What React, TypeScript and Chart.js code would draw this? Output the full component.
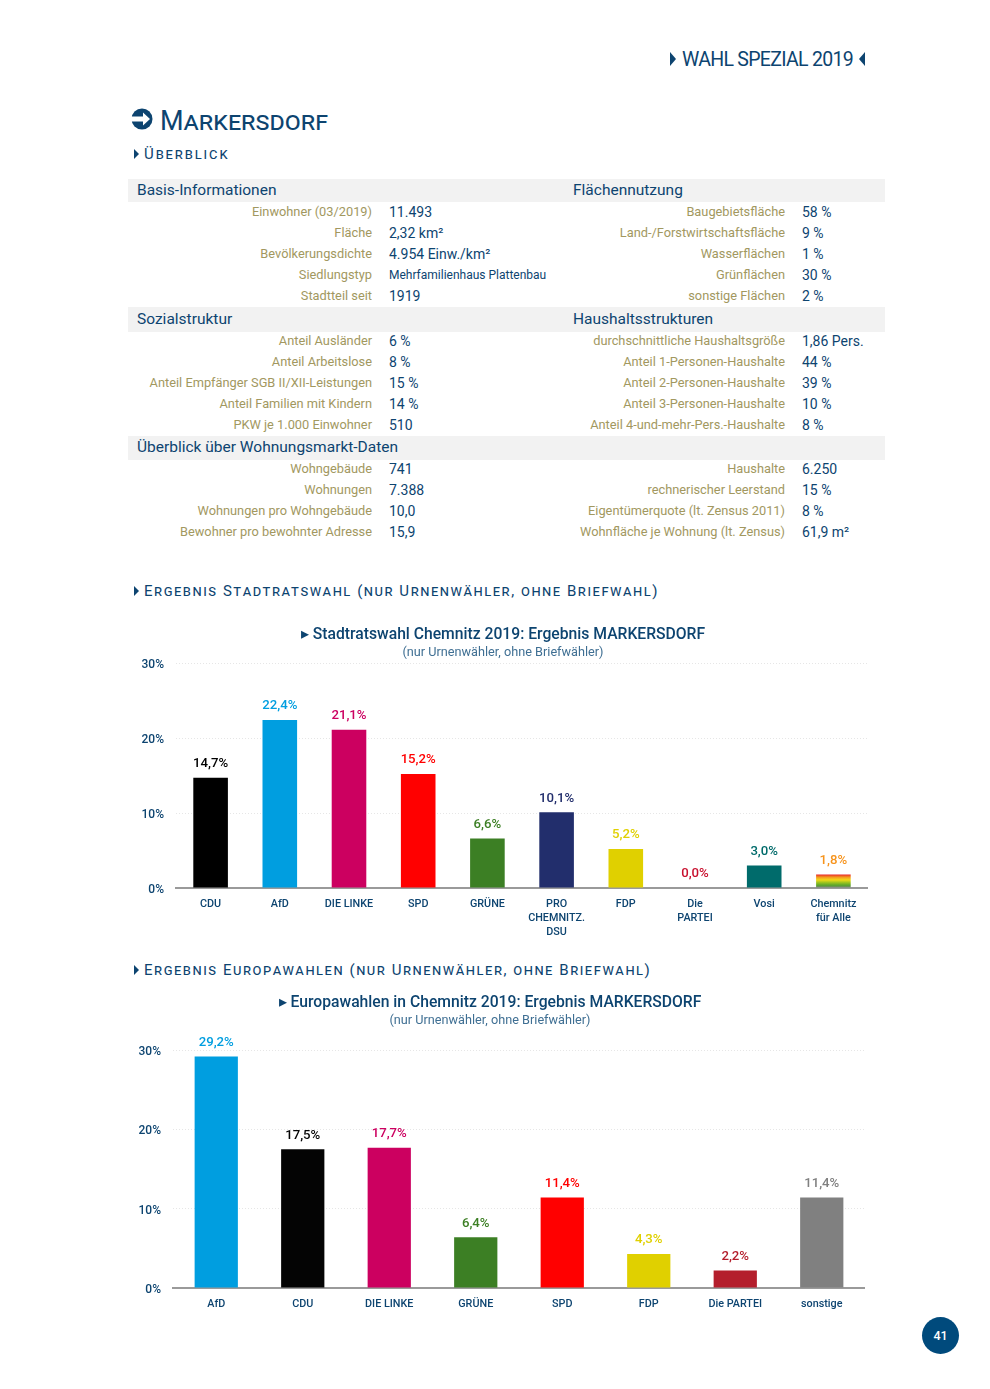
import React, { useEffect, useRef } from "react";
import { Chart, registerables } from "chart.js";

Chart.register(...registerables);

const FONT = "Roboto, 'Noto Sans', sans-serif";
const NAVY = "#0d4470";
const TAN = "#a2985f";

// ---- Table ----
const basisLabels = ["Einwohner (03/2019)", "Fläche", "Bevölkerungsdichte", "Siedlungstyp", "Stadtteil seit"];
const basisValues = ["11.493", "2,32 km²", "4.954 Einw./km²", "Mehrfamilienhaus Plattenbau", "1919"];
const flaecheLabels = ["Baugebietsfläche", "Land-/Forstwirtschaftsfläche", "Wasserflächen", "Grünflächen", "sonstige Flächen"];
const flaecheValues = ["58 %", "9 %", "1 %", "30 %", "2 %"];
const sozialLabels = ["Anteil Ausländer", "Anteil Arbeitslose", "Anteil Empfänger SGB II/XII-Leistungen", "Anteil Familien mit Kindern", "PKW je 1.000 Einwohner"];
const sozialValues = ["6 %", "8 %", "15 %", "14 %", "510"];
const haushaltLabels = ["durchschnittliche Haushaltsgröße", "Anteil 1-Personen-Haushalte", "Anteil 2-Personen-Haushalte", "Anteil 3-Personen-Haushalte", "Anteil 4-und-mehr-Pers.-Haushalte"];
const haushaltValues = ["1,86 Pers.", "44 %", "39 %", "10 %", "8 %"];
const wohnLabels = ["Wohngebäude", "Wohnungen", "Wohnungen pro Wohngebäude", "Bewohner pro bewohnter Adresse"];
const wohnValues = ["741", "7.388", "10,0", "15,9"];
const marktLabels = ["Haushalte", "rechnerischer Leerstand", "Eigentümerquote (lt. Zensus 2011)", "Wohnfläche je Wohnung (lt. Zensus)"];
const marktValues = ["6.250", "15 %", "8 %", "61,9 m²"];

// ---- Chart 1 ----
const stadtTitle = "▸ Stadtratswahl Chemnitz 2019: Ergebnis MARKERSDORF";
const stadtSubtitle = "(nur Urnenwähler, ohne Briefwähler)";
const stadtParties = ["CDU", "AfD", "DIE LINKE", "SPD", "GRÜNE", ["PRO", "CHEMNITZ.", "DSU"], "FDP", ["Die", "PARTEI"], "Vosi", ["Chemnitz", "für Alle"]];
const stadtValues = [14.7, 22.4, 21.1, 15.2, 6.6, 10.1, 5.2, 0.0, 3.0, 1.8];
const stadtColors = ["#000000", "#009ee0", "#cc0060", "#ff0000", "#3c7f24", "#222e6c", "#e0d000", "#c8102e", "#006b6b", "RAINBOW"];
const stadtLabelColors = ["#000000", "#009ee0", "#cc0060", "#ff0000", "#3c7f24", "#222e6c", "#e0d000", "#c8102e", "#006b6b", "#f7941d"];
const rainbowStops = ["#e8262a", "#f39a1f", "#f2d916", "#9cc31f", "#5aa52b", "#808080"];

// ---- Chart 2 ----
const euroTitle = "▸ Europawahlen in Chemnitz 2019: Ergebnis MARKERSDORF";
const euroSubtitle = "(nur Urnenwähler, ohne Briefwähler)";
const euroParties = ["AfD", "CDU", "DIE LINKE", "GRÜNE", "SPD", "FDP", "Die PARTEI", "sonstige"];
const euroValues = [29.2, 17.5, 17.7, 6.4, 11.4, 4.3, 2.2, 11.4];
const euroColors = ["#009ee0", "#040404", "#cc0060", "#3c7f24", "#ff0000", "#e0d000", "#b41e2c", "#808080"];
const euroLabelColors = ["#009ee0", "#040404", "#cc0060", "#3c7f24", "#ff0000", "#e0d000", "#b41e2c", "#808080"];

const yTicks = [0, 10, 20, 30];

type ChartSpec = {
  title: string; subtitle: string; labels: any[]; values: number[];
  colors: string[]; labelColors: string[];
  axisW: number; axisH: number; titleTop: number; subTop: number; subBottom: number; barPct: number;
};

function BarChart({ spec, style }: { spec: ChartSpec; style: React.CSSProperties }) {
  const ref = useRef<HTMLCanvasElement>(null);
  useEffect(() => {
    const valueLabels = {
      id: "valueLabels",
      afterDatasetsDraw(chart: any) {
        const { ctx } = chart;
        const meta = chart.getDatasetMeta(0);
        ctx.save();
        ctx.font = `500 13.2px ${FONT}`;
        ctx.textAlign = "center";
        ctx.textBaseline = "middle";
        meta.data.forEach((bar: any, i: number) => {
          ctx.fillStyle = spec.labelColors[i];
          ctx.fillText(spec.values[i].toFixed(1).replace(".", ",") + "%", bar.x, bar.y - 14);
        });
        ctx.restore();
      },
    };
    const chart = new Chart(ref.current!, {
      type: "bar",
      plugins: [valueLabels],
      data: {
        labels: spec.labels,
        datasets: [{
          data: spec.values,
          barPercentage: spec.barPct,
          categoryPercentage: 1,
          backgroundColor: (c: any) => {
            const col = spec.colors[c.dataIndex];
            if (col !== "RAINBOW") return col;
            const s = c.chart.scales.y;
            if (!s || !c.chart.chartArea) return rainbowStops[0];
            const g = c.chart.ctx.createLinearGradient(0, s.getPixelForValue(spec.values[c.dataIndex]), 0, s.getPixelForValue(0));
            rainbowStops.forEach((st, i) => g.addColorStop(i / (rainbowStops.length - 1), st));
            return g;
          },
        }],
      },
      options: {
        animation: false,
        responsive: false,
        devicePixelRatio: 1,
        layout: { padding: 0 },
        plugins: {
          legend: { display: false },
          tooltip: { enabled: false },
          title: {
            display: true, text: spec.title, color: NAVY,
            font: { family: FONT, size: 15.7, weight: "500" as any, lineHeight: 1.2 },
            padding: { top: spec.titleTop, bottom: 0 },
          },
          subtitle: {
            display: true, text: spec.subtitle, color: "#3f6f93",
            font: { family: FONT, size: 12.7, weight: "400" as any, lineHeight: 1.2 },
            padding: { top: spec.subTop, bottom: spec.subBottom },
          },
        },
        scales: {
          x: {
            afterFit: (s: any) => { s.height = spec.axisH; },
            border: { color: "#9a9a9a", width: 2 },
            grid: { display: false },
            ticks: {
              autoSkip: false, maxRotation: 0, minRotation: 0, padding: 1,
              color: NAVY,
              font: { family: FONT, size: 10.8, weight: "500" as any, lineHeight: 1.29 },
            },
          },
          y: {
            min: 0, max: 30,
            afterFit: (s: any) => { s.width = spec.axisW; },
            afterBuildTicks: (s: any) => { s.ticks = yTicks.map((v) => ({ value: v })); },
            border: { display: false, dash: [1, 2] },
            grid: {
              drawTicks: false, color: "#e6e6e6", lineWidth: 1,
            },
            ticks: {
              padding: 12, color: NAVY, labelOffset: 2,
              font: { family: FONT, size: 12, weight: "500" as any },
              callback: (v: any) => `${v}%`,
            },
          },
        },
      } as any,
    });
    return () => chart.destroy();
  }, [spec]);
  const w = style.width as number, h = style.height as number;
  return <canvas ref={ref} width={w} height={h} style={{ position: "absolute", display: "block", ...style }} />;
}

const stadtSpec: ChartSpec = {
  title: stadtTitle, subtitle: stadtSubtitle, labels: stadtParties, values: stadtValues,
  colors: stadtColors, labelColors: stadtLabelColors, axisW: 38, axisH: 62, titleTop: 6, subTop: 0, subBottom: 3, barPct: 0.5,
};
const euroSpec: ChartSpec = {
  title: euroTitle, subtitle: euroSubtitle, labels: euroParties, values: euroValues,
  colors: euroColors, labelColors: euroLabelColors, axisW: 58, axisH: 42, titleTop: 4, subTop: 0, subBottom: 22, barPct: 0.5,
};

function T({ x, y, right, size = 13, color = NAVY, weight = 400, children, style }: any) {
  const pos: any = right !== undefined ? { right: 990 - right } : { left: x };
  return (
    <div style={{ position: "absolute", top: y, transform: "translateY(-50%)", whiteSpace: "nowrap", fontSize: size, color, fontWeight: weight, lineHeight: 1, ...pos, ...style }}>
      {children}
    </div>
  );
}

function Tri({ x, y, dir = "r", h = 12, w = 6 }: any) {
  const s: any = { position: "absolute", left: x, top: y - h / 2, width: 0, height: 0, borderTop: `${h / 2}px solid transparent`, borderBottom: `${h / 2}px solid transparent` };
  if (dir === "r") s.borderLeft = `${w}px solid ${NAVY}`; else s.borderRight = `${w}px solid ${NAVY}`;
  return <div style={s} />;
}

function Band({ y, h, left, right }: any) {
  return (
    <>
      <div style={{ position: "absolute", left: 128, top: y, width: 757, height: h, background: "#f2f2f2" }} />
      <T x={137} y={y + h / 2} size={15.5}>{left}</T>
      {right && <T x={573} y={y + h / 2} size={15.5}>{right}</T>}
    </>
  );
}

function Rows({ ys, labels, values, labelRight, valueX }: any) {
  return ys.map((y: number, i: number) => (
    <React.Fragment key={i}>
      <T right={labelRight} y={y + 1} size={12.8} color={TAN}>{labels[i]}</T>
      <T x={valueX} y={y + 1} size={values[i].length > 20 ? 12 : 14}>{values[i]}</T>
    </React.Fragment>
  ));
}

const smallCaps: React.CSSProperties = { fontVariant: "small-caps", letterSpacing: "1.9px" };
const sectionCaps: React.CSSProperties = { fontVariant: "small-caps", letterSpacing: "1.55px" };
const rowsA = [211, 232, 253, 274, 295];
const rowsB = [340, 361, 382, 403, 424];
const rowsC = [468, 489, 510, 531];

export default function App() {
  return (
    <div style={{ position: "absolute", left: 0, top: 0, width: 990, height: 1389, background: "#fff", overflow: "hidden", fontFamily: FONT }}>
      <Tri x={670} y={59} h={14} w={6} />
      <T x={682} y={60} size={19.5} style={{ letterSpacing: "-0.7px" }}>WAHL SPEZIAL 2019</T>
      <Tri x={859} y={59} dir="l" h={14} w={6} />

      <svg style={{ position: "absolute", left: 131, top: 108 }} width={22} height={22} viewBox="0 0 22 22">
        <circle cx="11" cy="11" r="10.5" fill={NAVY} />
        <path d="M0 8.5 H12 V4.5 L19 11 L12 17.5 V13.5 H0 Z" fill="#fff" />
      </svg>
      <T x={160} y={121} size={27} style={{ fontVariant: "small-caps" }}>Markersdorf</T>

      <Tri x={134} y={154} h={10} w={5} />
      <T x={144} y={154} size={15} style={smallCaps}>Überblick</T>

      <Band y={179} h={23} left="Basis-Informationen" right="Flächennutzung" />
      <Rows ys={rowsA} labels={basisLabels} values={basisValues} labelRight={372} valueX={389} />
      <Rows ys={rowsA} labels={flaecheLabels} values={flaecheValues} labelRight={785} valueX={802} />
      <Band y={307} h={25} left="Sozialstruktur" right="Haushaltsstrukturen" />
      <Rows ys={rowsB} labels={sozialLabels} values={sozialValues} labelRight={372} valueX={389} />
      <Rows ys={rowsB} labels={haushaltLabels} values={haushaltValues} labelRight={785} valueX={802} />
      <Band y={436} h={24} left="Überblick über Wohnungsmarkt-Daten" />
      <Rows ys={rowsC} labels={wohnLabels} values={wohnValues} labelRight={372} valueX={389} />
      <Rows ys={rowsC} labels={marktLabels} values={marktValues} labelRight={785} valueX={802} />

      <Tri x={134} y={591} h={10} w={5} />
      <T x={144} y={591} size={15} style={sectionCaps}>Ergebnis Stadtratswahl (nur Urnenwähler, ohne Briefwahl)</T>
      <BarChart spec={stadtSpec} style={{ left: 138, top: 620, width: 730, height: 330 }} />

      <Tri x={134} y={970} h={10} w={5} />
      <T x={144} y={970} size={15} style={sectionCaps}>Ergebnis Europawahlen (nur Urnenwähler, ohne Briefwahl)</T>
      <BarChart spec={euroSpec} style={{ left: 115, top: 990, width: 750, height: 340 }} />

      <div style={{ position: "absolute", left: 922, top: 1317, width: 37, height: 37, borderRadius: "50%", background: "#004a7c", color: "#fff", fontSize: 12.5, fontWeight: 500, display: "flex", alignItems: "center", justifyContent: "center" }}>41</div>
    </div>
  );
}
